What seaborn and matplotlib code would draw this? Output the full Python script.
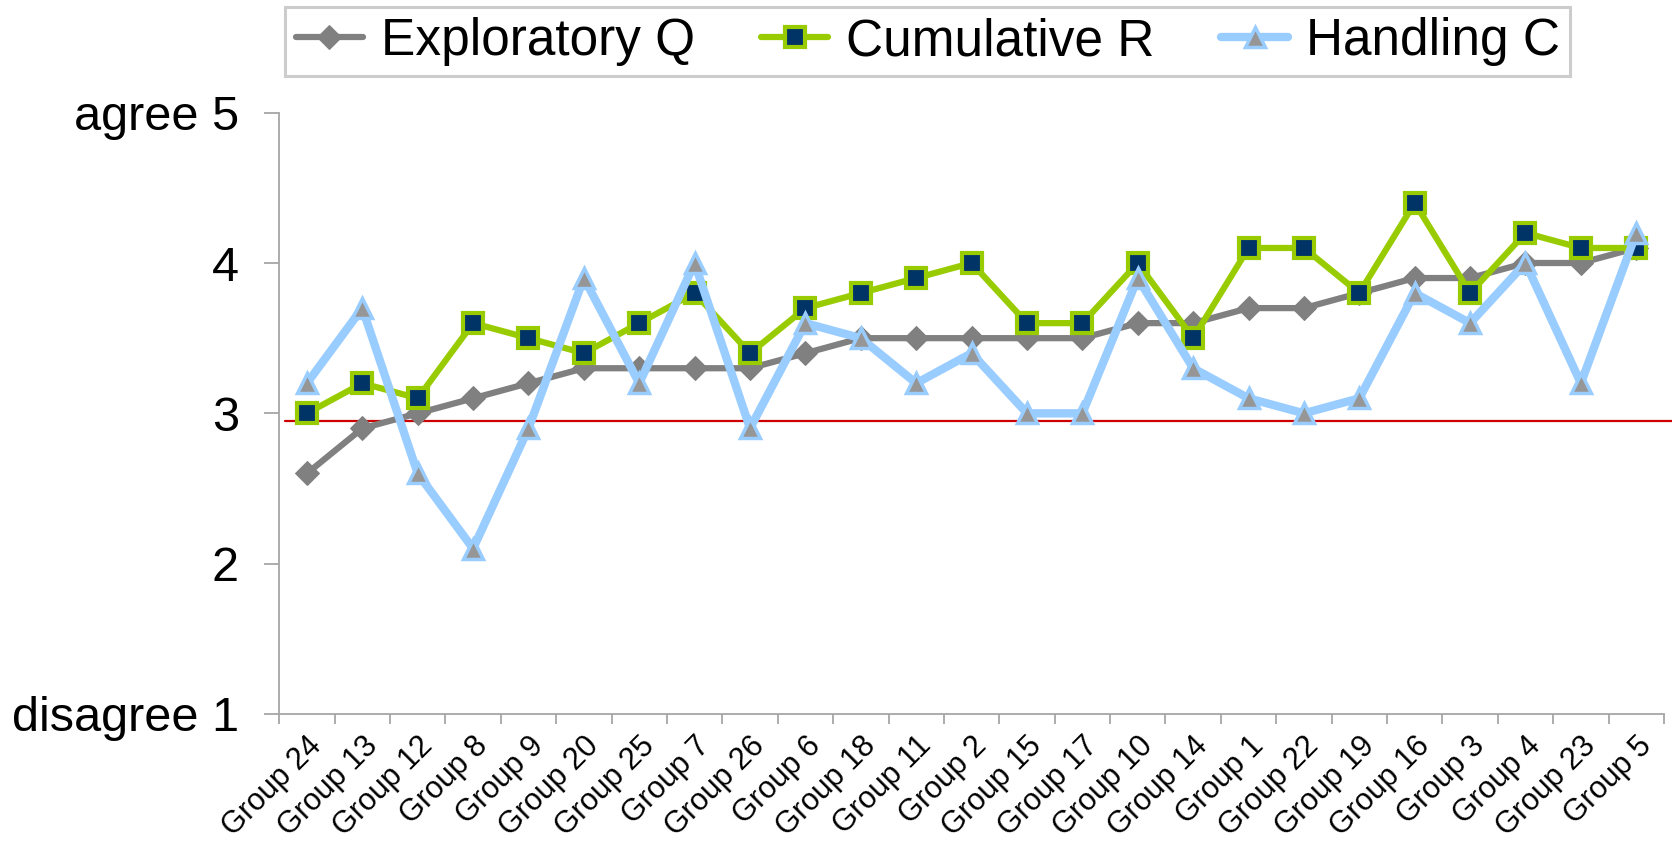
import numpy as np
import pandas as pd
import seaborn as sns
import matplotlib
matplotlib.use("Agg")
import matplotlib.pyplot as plt

# data
groups = ["Group 24", "Group 13", "Group 12", "Group 8", "Group 9", "Group 20",
          "Group 25", "Group 7", "Group 26", "Group 6", "Group 18", "Group 11",
          "Group 2", "Group 15", "Group 17", "Group 10", "Group 14", "Group 1",
          "Group 22", "Group 19", "Group 16", "Group 3", "Group 4", "Group 23",
          "Group 5"]
exploratory_q = [2.6, 2.9, 3.0, 3.1, 3.2, 3.3, 3.3, 3.3, 3.3, 3.4, 3.5, 3.5, 3.5,
                 3.5, 3.5, 3.6, 3.6, 3.7, 3.7, 3.8, 3.9, 3.9, 4.0, 4.0, 4.1]
cumulative_r = [3.0, 3.2, 3.1, 3.6, 3.5, 3.4, 3.6, 3.8, 3.4, 3.7, 3.8, 3.9, 4.0,
                3.6, 3.6, 4.0, 3.5, 4.1, 4.1, 3.8, 4.4, 3.8, 4.2, 4.1, 4.1]
handling_c = [3.2, 3.7, 2.6, 2.1, 2.9, 3.9, 3.2, 4.0, 2.9, 3.6, 3.5, 3.2, 3.4,
              3.0, 3.0, 3.9, 3.3, 3.1, 3.0, 3.1, 3.8, 3.6, 4.0, 3.2, 4.2]
threshold = 2.95
y_ticks = [1, 2, 3, 4, 5]
y_labels = ["disagree 1", "2", "3", "4", "agree 5"]

df = pd.DataFrame({"pos": np.arange(len(groups)), "group": groups,
                   "Exploratory Q": exploratory_q,
                   "Cumulative R": cumulative_r,
                   "Handling C": handling_c})

sns.set_style("white")
plt.rcParams["font.family"] = ["Liberation Sans", "DejaVu Sans"]
plt.rcParams["text.color"] = "black"
plt.rcParams["xtick.labelcolor"] = "black"
plt.rcParams["ytick.labelcolor"] = "black"

fig = plt.figure(figsize=(16.72, 8.51), dpi=100)
ax = fig.add_axes([0.167, 0.161, 0.8282, 0.7066])

axis_grey = "#a6a6a6"

sns.lineplot(data=df, x="pos", y="Exploratory Q", ax=ax, color="#808080",
             linewidth=4.5, marker="D", markersize=12, markerfacecolor="#808080",
             markeredgecolor="#808080", label="Exploratory Q", sort=False, zorder=3)
sns.lineplot(data=df, x="pos", y="Cumulative R", ax=ax, color="#99cc00",
             linewidth=4.5, marker="s", markersize=15, markerfacecolor="#003366",
             markeredgecolor="#99cc00", markeredgewidth=3,
             label="Cumulative R", sort=False, zorder=4)
sns.lineplot(data=df, x="pos", y="Handling C", ax=ax, color="#99ccff",
             linewidth=6, marker="^", markersize=14, markerfacecolor="#969696",
             markeredgecolor="#99ccff", markeredgewidth=2.5,
             label="Handling C", sort=False, zorder=5)

ax.axhline(threshold, xmin=0.004, xmax=1.0056, color="#cc0000", linewidth=1.6,
           clip_on=False, zorder=2)

ax.set_xlim(-0.5, len(groups) - 0.5)
ax.set_ylim(1, 5)
ax.set_xlabel("")
ax.set_ylabel("")

ax.set_xticks(np.arange(len(groups)))
ax.set_xticklabels(groups, rotation=45, ha="right", rotation_mode="anchor",
                   fontsize=22)
ax.set_xticks(np.arange(len(groups) + 1) - 0.5, minor=True)
ax.tick_params(axis="x", which="major", length=0, pad=12)
ax.tick_params(axis="x", which="minor", length=7, width=1.3, color=axis_grey,
               direction="out", bottom=True)

ax.set_yticks(y_ticks)
ax.set_yticklabels(y_labels, fontsize=35)
ax.tick_params(axis="y", length=11, width=1.3, color=axis_grey, direction="out",
               pad=18, left=True)

for s in ["top", "right"]:
    ax.spines[s].set_visible(False)
for s in ["left", "bottom"]:
    ax.spines[s].set_color(axis_grey)
    ax.spines[s].set_linewidth(1.3)

leg = ax.legend(loc="center", bbox_to_anchor=(0.555, 0.951),
                bbox_transform=fig.transFigure, ncol=3, fontsize=37,
                frameon=True, fancybox=False, edgecolor="#c0c0c0",
                handlelength=1.3, handletextpad=0.35, columnspacing=1.3,
                borderpad=0.2, borderaxespad=0)
leg.get_frame().set_linewidth(2.2)

fig.savefig("out.png", dpi=100)
